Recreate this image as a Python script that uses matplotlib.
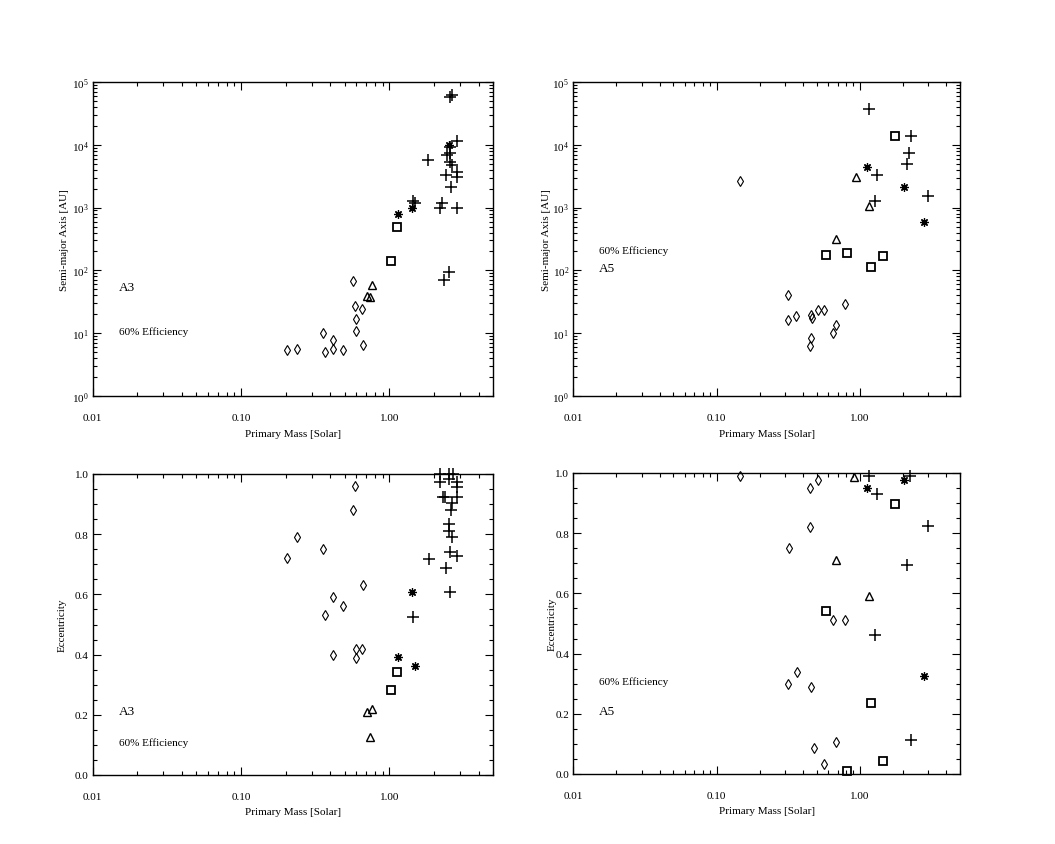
import numpy as np
import matplotlib
matplotlib.use("Agg")
import matplotlib.pyplot as plt
from matplotlib.ticker import FixedLocator, FuncFormatter, LogLocator, MultipleLocator, NullFormatter

plt.rcParams['font.family'] = ['Liberation Serif', 'DejaVu Serif']
plt.rcParams['mathtext.fontset'] = 'custom'
plt.rcParams['mathtext.rm'] = 'Liberation Serif'
plt.rcParams['font.size'] = 8

# ---- A3 run: semi-major axis panel ----
a3_dia_mass = [0.203, 0.238, 0.359, 0.368, 0.419, 0.419, 0.485, 0.566, 0.590, 0.596, 0.596, 0.657, 0.668]
a3_dia_sma = [5.5, 5.7, 10.1, 5.1, 7.9, 5.6, 5.5, 67, 27.4, 16.8, 10.8, 24.3, 6.6]
a3_tri_mass = [0.704, 0.741, 0.761]
a3_tri_sma = [38.7, 37.4, 59]
a3_sq_mass = [1.03, 1.13]
a3_sq_sma = [143, 491]
a3_ast_mass = [1.15, 1.42, 2.54]
a3_ast_sma = [790, 986, 9930]
a3_plus_mass = [2.57, 2.66, 2.87, 2.57, 2.44, 2.57, 1.83, 2.57, 2.64, 2.41,
                2.85, 2.85, 2.59, 1.45, 1.49, 2.25, 2.20, 2.85, 2.35, 2.54]
a3_plus_sma = [58300, 62100, 11600, 9330, 6950, 7390, 5720, 5260, 4820, 3340,
               3650, 3100, 2100, 1290, 1170, 1180, 975, 986, 70, 95]

# ---- A3 run: eccentricity panel ----
a3_dia_ecc = [0.72, 0.79, 0.75, 0.53, 0.59, 0.40, 0.56, 0.88, 0.96, 0.42, 0.39, 0.42, 0.63]
a3_tri_ecc = [0.208, 0.127, 0.219]
a3_sq_ecc = [0.282, 0.343]
a3_ast_emass = [1.15, 1.42, 1.49]
a3_ast_ecc = [0.392, 0.607, 0.363]
a3_plus_emass = [2.20, 2.54, 2.68, 2.20, 2.54, 2.88, 2.88, 2.31, 2.38, 2.88, 2.64,
                 2.59, 2.54, 2.54, 2.64, 2.57, 2.85, 1.84, 2.42, 2.57, 1.44]
a3_plus_ecc = [1.0, 1.0, 1.0, 0.972, 0.983, 0.972, 0.958, 0.922, 0.922, 0.922, 0.903,
               0.880, 0.834, 0.812, 0.792, 0.740, 0.729, 0.718, 0.687, 0.609, 0.524]

# ---- A5 run: semi-major axis panel ----
a5_dia_mass = [0.146, 0.316, 0.315, 0.360, 0.457, 0.466, 0.453, 0.452, 0.512, 0.558, 0.649, 0.684, 0.791]
a5_dia_sma = [2620, 41, 16.5, 18.6, 19.5, 17.7, 8.3, 6.3, 23.7, 23.7, 10.1, 13.5, 29.5]
a5_tri_mass = [0.684, 0.933, 1.16]
a5_tri_sma = [313, 3110, 1075]
a5_sq_mass = [0.582, 0.807, 1.19, 1.45, 1.75]
a5_sq_sma = [178, 186, 115, 170, 13600]
a5_ast_mass = [1.13, 2.04, 2.80]
a5_ast_sma = [4490, 2100, 597]
a5_plus_mass = [1.16, 1.31, 1.27, 2.26, 2.21, 2.14, 2.97]
a5_plus_sma = [37100, 3300, 1270, 13600, 7400, 4900, 1510]

# ---- A5 run: eccentricity panel ----
a5_dia_emass = [0.146, 0.320, 0.315, 0.364, 0.452, 0.452, 0.457, 0.478, 0.512, 0.558, 0.649, 0.684, 0.790]
a5_dia_ecc = [0.989, 0.75, 0.30, 0.34, 0.95, 0.82, 0.29, 0.085, 0.978, 0.033, 0.51, 0.105, 0.51]
a5_tri_emass = [0.913, 0.684, 1.16]
a5_tri_ecc = [0.988, 0.712, 0.592]
a5_sq_ecc = [0.542, 0.011, 0.235, 0.044, 0.897]
a5_ast_ecc = [0.949, 0.978, 0.327]
a5_plus_emass = [1.16, 1.31, 1.27, 2.23, 2.12, 2.97, 2.26]
a5_plus_ecc = [0.991, 0.930, 0.462, 0.991, 0.694, 0.825, 0.114]

W, H = 1055, 845
fig = plt.figure(figsize=(W / 100, H / 100), dpi=100)

# axes boxes in pixels: left, top, right, bottom
boxes = {
    'tl': (92.7, 83, 493, 397),
    'tr': (573.3, 83, 960, 397),
    'bl': (92.7, 475, 493, 776),
    'br': (573.3, 474, 960, 775),
}


def make_axes(box):
    l, t, r, b = box
    return fig.add_axes([l / W, 1 - b / H, (r - l) / W, (b - t) / H])


def style(ax, logy, ylab, ylab_x):
    ax.set_xscale('log')
    ax.set_xlim(0.01, 5.0)
    ax.xaxis.set_major_locator(FixedLocator([0.01, 0.1, 1.0]))
    ax.xaxis.set_minor_locator(LogLocator(base=10, subs=np.arange(2, 10)))
    ax.xaxis.set_major_formatter(FuncFormatter(lambda v, p: '%.2f' % v))
    ax.xaxis.set_minor_formatter(NullFormatter())
    if logy:
        ax.set_yscale('log')
        ax.set_ylim(1, 1e5)
        ax.yaxis.set_major_locator(LogLocator(base=10, numticks=10))
        ax.yaxis.set_minor_locator(LogLocator(base=10, subs=np.arange(2, 10), numticks=20))
        ax.yaxis.set_minor_formatter(NullFormatter())
    else:
        ax.set_ylim(0, 1.0)
        ax.yaxis.set_major_locator(MultipleLocator(0.2))
        ax.yaxis.set_minor_locator(MultipleLocator(0.05))
        ax.yaxis.set_major_formatter(FuncFormatter(lambda v, p: '%.1f' % v))
    ax.tick_params(which='both', direction='in', top=True, right=True, width=0.8)
    ax.tick_params(which='major', length=6)
    ax.tick_params(which='minor', length=3)
    ax.tick_params(axis='x', which='major', pad=12)
    ax.tick_params(axis='y', which='major', pad=3)
    for s in ax.spines.values():
        s.set_linewidth(1.0)
    ax.set_xlabel('Primary Mass [Solar]')
    ax.xaxis.set_label_coords(0.5, -0.105)
    ax.set_ylabel(ylab)
    ax.yaxis.set_label_coords(ylab_x, 0.5)


def draw(ax, dm, dy, tm, ty, sm, sy, am, ay, pm, py):
    kw = dict(linestyle='none', color='black', clip_on=False)
    ax.plot(dm, dy, marker='d', ms=5.2, mfc='none', mew=0.8, **kw)
    ax.plot(tm, ty, marker='^', ms=5.5, mfc='none', mew=1.0, **kw)
    ax.plot(sm, sy, marker='s', ms=6.3, mfc='none', mew=1.3, **kw)
    ax.plot(am, ay, marker=(8, 2, 0), ms=6, mew=0.9, **kw)
    ax.plot(pm, py, marker='+', ms=8, mew=1.1, **kw)


ax = make_axes(boxes['tl'])
style(ax, True, 'Semi-major Axis [AU]', -0.058)
draw(ax, a3_dia_mass, a3_dia_sma, a3_tri_mass, a3_tri_sma, a3_sq_mass, a3_sq_sma,
     a3_ast_mass, a3_ast_sma, a3_plus_mass, a3_plus_sma)
ax.text(0.066, 0.347, 'A3', transform=ax.transAxes, va='center', fontsize=9.5)
ax.text(0.066, 0.207, '60% Efficiency', transform=ax.transAxes, va='center')

ax = make_axes(boxes['tr'])
style(ax, True, 'Semi-major Axis [AU]', -0.058)
draw(ax, a5_dia_mass, a5_dia_sma, a5_tri_mass, a5_tri_sma, a5_sq_mass, a5_sq_sma,
     a5_ast_mass, a5_ast_sma, a5_plus_mass, a5_plus_sma)
ax.text(0.066, 0.466, '60% Efficiency', transform=ax.transAxes, va='center')
ax.text(0.066, 0.408, 'A5', transform=ax.transAxes, va='center', fontsize=9.5)

ax = make_axes(boxes['bl'])
style(ax, False, 'Eccentricity', -0.064)
draw(ax, a3_dia_mass, a3_dia_ecc, a3_tri_mass, a3_tri_ecc, a3_sq_mass, a3_sq_ecc,
     a3_ast_emass, a3_ast_ecc, a3_plus_emass, a3_plus_ecc)
ax.text(0.066, 0.212, 'A3', transform=ax.transAxes, va='center', fontsize=9.5)
ax.text(0.066, 0.109, '60% Efficiency', transform=ax.transAxes, va='center')

ax = make_axes(boxes['br'])
style(ax, False, 'Eccentricity', -0.042)
draw(ax, a5_dia_emass, a5_dia_ecc, a5_tri_emass, a5_tri_ecc, a5_sq_mass, a5_sq_ecc,
     a5_ast_mass, a5_ast_ecc, a5_plus_emass, a5_plus_ecc)
ax.text(0.066, 0.31, '60% Efficiency', transform=ax.transAxes, va='center')
ax.text(0.066, 0.208, 'A5', transform=ax.transAxes, va='center', fontsize=9.5)

fig.savefig('out.png', dpi=100, facecolor='white')
